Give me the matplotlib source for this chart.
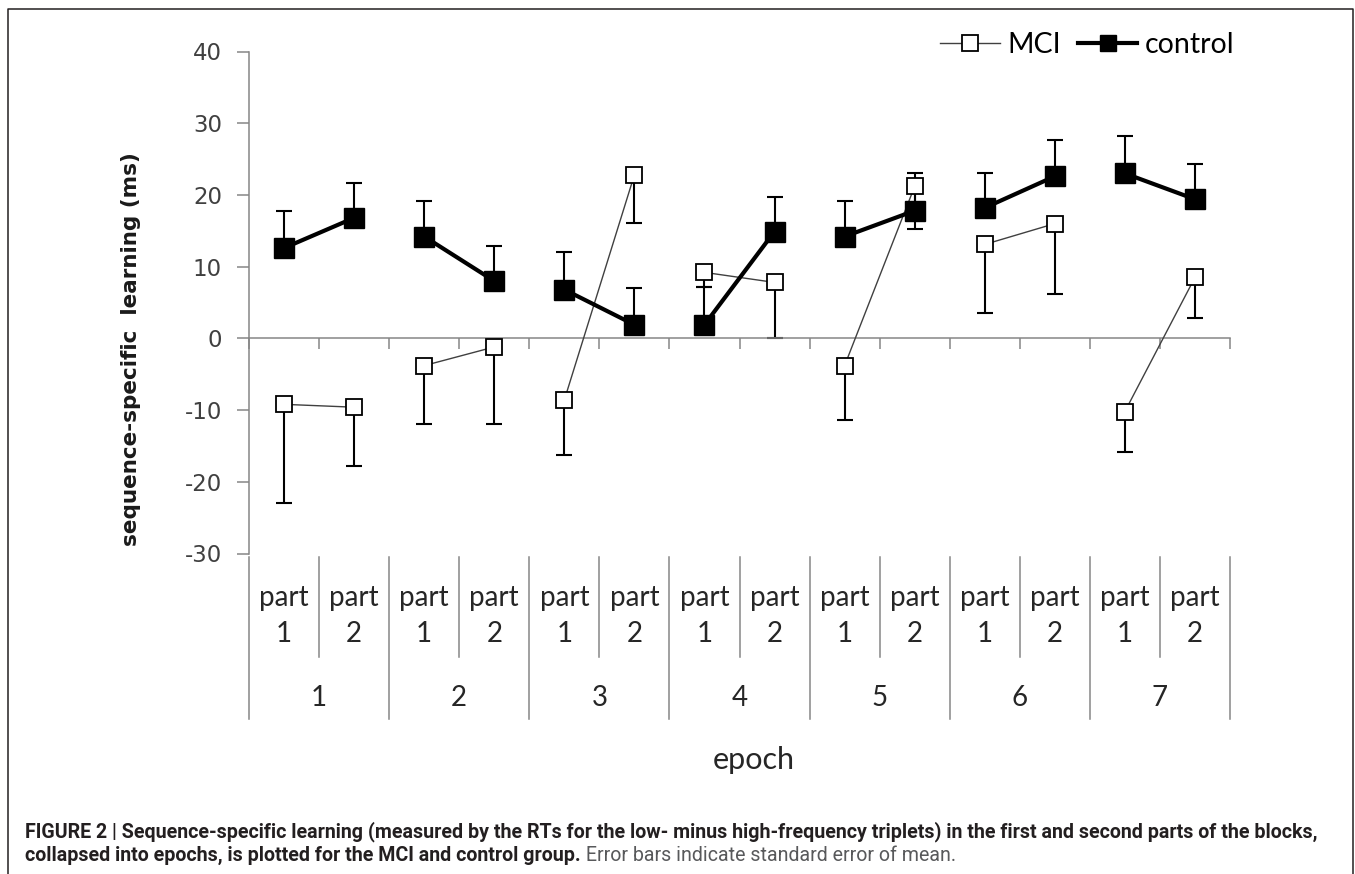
import numpy as np
import matplotlib.pyplot as plt
from matplotlib.lines import Line2D
import matplotlib.transforms as mtransforms

# データ
epochs = ['1', '2', '3', '4', '5', '6', '7']
parts = ['part\n1', 'part\n2']
mci = [-9.2, -9.6, -3.8, -1.2, -8.6, 22.8, 9.2, 7.8, -3.8, 21.2, 13.1, 16.0, -10.2, 8.5]
mci_err = [13.7, 8.2, 8.2, 10.8, 7.6, 6.7, 2.1, 7.8, 7.6, 5.9, 9.5, 9.8, 5.7, 5.6]
control = [12.6, 16.8, 14.2, 8.0, 6.8, 1.9, 1.9, 14.9, 14.2, 17.8, 18.2, 22.6, 23.0, 19.4]
control_err = [5.2, 4.9, 4.9, 4.9, 5.2, 5.1, 5.2, 4.8, 4.9, 5.2, 4.8, 5.1, 5.2, 4.9]
yticks = [-30, -20, -10, 0, 10, 20, 30, 40]

caption1 = ('FIGURE 2 | Sequence-specific learning (measured by the RTs for the low- minus '
            'high-frequency triplets) in the first and second parts of the blocks,')
caption2 = 'collapsed into epochs, is plotted for the MCI and control group.'
caption3 = ' Error bars indicate standard error of mean.'

plt.rcParams['axes.unicode_minus'] = False

W, H = 1355, 874
fig = plt.figure(figsize=(W / 100, H / 100), dpi=100)
ax = fig.add_axes([249 / W, 1 - 553.5 / H, (1230 - 249) / W, 502 / H])

gray = '#868686'
n = len(mci)
x = np.arange(n) + 0.5

# 誤差棒（MCIは下向き、controlは上向き）
zeros = np.zeros(n)
ax.errorbar(x, mci, yerr=[mci_err, zeros], fmt='none', ecolor='black',
            elinewidth=1.5, capsize=5.8, capthick=1.5, zorder=2)
ax.errorbar(x, control, yerr=[zeros, control_err], fmt='none', ecolor='black',
            elinewidth=1.5, capsize=5.8, capthick=1.5, zorder=2)

# エポック内の2点だけを線で結ぶ
for e in range(len(epochs)):
    i = 2 * e
    ax.plot(x[i:i + 2], mci[i:i + 2], color='#404040', lw=1.0, marker='s', ms=11,
            mfc='white', mec='black', mew=1.3, zorder=3)
    ax.plot(x[i:i + 2], control[i:i + 2], color='black', lw=3.0, marker='s', ms=14,
            mfc='black', mec='black', mew=1, zorder=4)

ax.set_xlim(0, n)
ax.set_ylim(-30, 40)
for s in ['top', 'right']:
    ax.spines[s].set_visible(False)
ax.spines['bottom'].set_position(('data', 0))
for s in ['left', 'bottom']:
    ax.spines[s].set_color(gray)
    ax.spines[s].set_linewidth(1.1)

ax.set_xticks(np.arange(n + 1))
ax.set_xticklabels([])
ax.tick_params(axis='x', direction='out', length=8, width=1.1, color=gray)
ax.set_yticks(yticks)
ax.tick_params(axis='y', direction='out', length=8.5, width=1.1, color=gray,
               labelsize=16.5, labelcolor='#404040', pad=11)

# カテゴリ軸（part / epoch）
trans = mtransforms.blended_transform_factory(ax.transData, ax.transAxes)
for b in range(n + 1):
    yb = -0.330 if b % 2 == 0 else -0.206
    ax.plot([b, b], [-0.007, yb], transform=trans, clip_on=False, color=gray, lw=1.1)
for i in range(n):
    ax.text(x[i], -0.125, parts[i % 2], transform=trans, ha='center', va='center',
            fontsize=20, family='Lato', color='#262626', linespacing=1.5)
for e, lab in enumerate(epochs):
    ax.text(2 * e + 1, -0.288, lab, transform=trans, ha='center', va='center',
            fontsize=20, family='Lato', color='#262626')

# 凡例
handles = [
    Line2D([], [], color='#404040', lw=1.0, marker='s', ms=11, mfc='white', mec='black', mew=1.3),
    Line2D([], [], color='black', lw=3.0, marker='s', ms=12, mfc='black', mec='black'),
]
ax.legend(handles, ['MCI', 'control'], ncol=2, frameon=False, loc='center left',
          bbox_to_anchor=(940 / W, 1 - 45 / H), bbox_transform=fig.transFigure,
          borderpad=0, borderaxespad=0, handlelength=2.1, handletextpad=0.25,
          columnspacing=0.6, prop={'family': 'Lato', 'size': 20.5})

fig.text(131 / W, 1 - 349 / H, 'sequence-specific  learning (ms)', rotation=90,
         ha='center', va='center', fontsize=15.5, fontweight='bold', color='#1a1a1a')
fig.text(754 / W, 1 - 760 / H, 'epoch', ha='center', va='center', fontsize=22,
         family='Lato', color='#262626')

# 枠線
fig.add_artist(Line2D([8 / W, 8 / W, 1353 / W, 1353 / W], [0, 1 - 9 / H, 1 - 9 / H, 0],
                      transform=fig.transFigure, color='#231f20', lw=1.1))

# キャプション
cap_font = ['Roboto', 'DejaVu Sans']
fig.text(25 / W, 1 - 837 / H, caption1, fontsize=14.1, fontweight='bold',
         family=cap_font, color='#231f20', va='baseline')
t2 = fig.text(25 / W, 1 - 861 / H, caption2, fontsize=14.1, fontweight='bold',
              family=cap_font, color='#231f20', va='baseline')
fig.canvas.draw()
bb = t2.get_window_extent()
fig.text(bb.x1 / W, 1 - 861 / H, caption3, fontsize=14.1, family=cap_font,
         color='#58595b', va='baseline')

plt.savefig('out.png', dpi=100)
